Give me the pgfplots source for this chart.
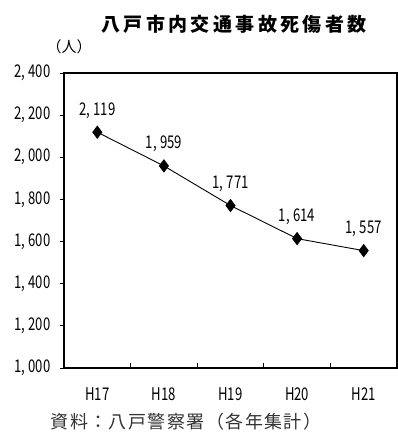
\documentclass[border=0pt]{standalone}
\usepackage{fontspec}
\setmainfont{Noto Sans CJK JP}
\newfontfamily\numfont[FakeStretch=0.75]{Noto Sans CJK JP}
\usepackage{pgfplots}
\pgfplotsset{compat=1.18}
\begin{document}
\begin{tikzpicture}
\useasboundingbox (0,0) rectangle (398pt,432pt);
\begin{axis}[
  at={(64pt,64pt)}, anchor=south west,
  scale only axis, width=333pt, height=295pt,
  xmin=-0.5, xmax=4.5, ymin=1000, ymax=2400,
  xtick={0,1,2,3,4}, xticklabels={H17,H18,H19,H20,H21},
  minor xtick={0.5,1.5,2.5,3.5},
  major x tick style={draw=none},
  xtick align=inside, ytick align=outside,
  xtick pos=bottom, ytick pos=left,
  ytick={1000,1200,...,2400},
  major tick length=4pt, minor tick length=5pt,
  every tick/.style={black, line width=0.8pt},
  axis line style={line width=1.2pt},
  /pgf/number format/1000 sep={,\hspace{3.5pt}},
  /pgf/number format/assume math mode=true,
  tick label style={font=\numfont\fontsize{17.5}{18}\selectfont},
  yticklabel style={xshift=-6pt},
  xticklabel style={yshift=-16.5pt},
  nodes near coords,
  every node near coord/.append style={font=\numfont\fontsize{17.5}{18}\selectfont, anchor=south, yshift=10pt, black},
]
\addplot[black, line width=0.9pt, mark=diamond*, mark size=6pt] coordinates {(0,2119) (1,1959) (2,1771) (3,1614) (4,1557)};
\end{axis}
\node[font=\bfseries\fontsize{19}{20}\selectfont\addfontfeature{LetterSpace=18}] at (234pt,408pt) {八戸市内交通事故死傷者数};
\node[font=\fontsize{15}{15}\selectfont] at (69pt,385pt) {（人）};
\node[font=\fontsize{18}{18}\selectfont\addfontfeature{LetterSpace=8}, text=black!80] at (186pt,10pt) {資料：八戸警察署（各年集計）};
\end{tikzpicture}
\end{document}
